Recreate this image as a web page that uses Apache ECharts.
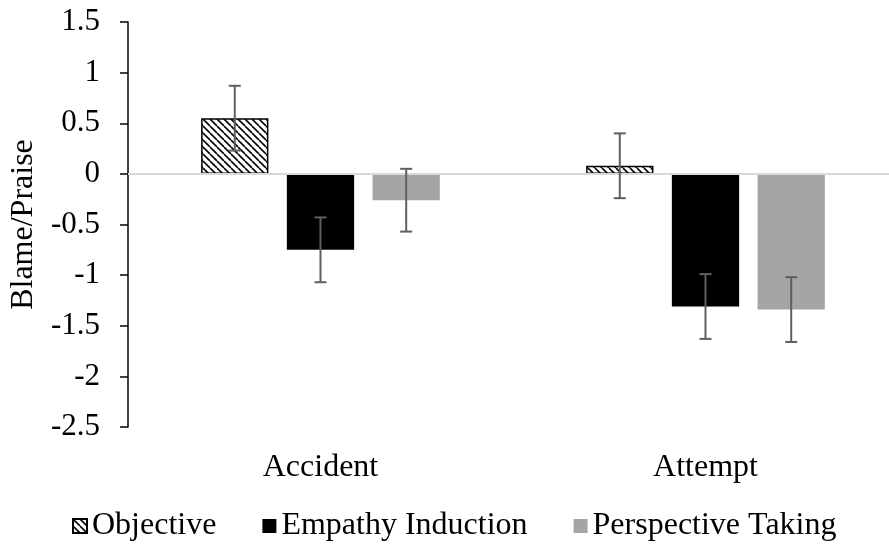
<!DOCTYPE html>
<html>
<head>
<meta charset="utf-8">
<script src="https://cdn.jsdelivr.net/npm/echarts@6/dist/echarts.min.js"></script>
<style>
html,body{margin:0;padding:0;background:#fff;overflow:hidden;width:889px;height:548px;}
#chart{width:898px;height:548px;}
</style>
</head>
<body>
<div id="chart"></div>
<script>
const categories = ['Accident', 'Attempt'];
const seriesNames = ['Objective', 'Empathy Induction', 'Perspective Taking'];
const objective = [0.55, 0.08];
const empathy = [-0.75, -1.31];
const perspective = [-0.26, -1.34];
const objectiveErr = [0.32, 0.32];
const empathyErr = [0.32, 0.32];
const perspectiveErr = [0.31, 0.32];
const yTicks = { min: -2.5, max: 1.5, interval: 0.5 };

const FONT = "'Liberation Serif', 'Times New Roman', serif";
const BAR_GAP = 0.274;
const CAT_GAP = 0.38;

function hatch() {
  const s = 7;
  const c = document.createElement('canvas');
  c.width = s; c.height = s;
  const ctx = c.getContext('2d');
  ctx.fillStyle = '#fff';
  ctx.fillRect(0, 0, s, s);
  ctx.strokeStyle = '#000';
  ctx.lineWidth = 1.6;
  for (const k of [-s, 0, s]) {
    ctx.beginPath();
    ctx.moveTo(k, 0);
    ctx.lineTo(k + s, s);
    ctx.stroke();
  }
  return c;
}

const values = [objective, empathy, perspective];
const errs = [objectiveErr, empathyErr, perspectiveErr];
const errData = [];
values.forEach((vals, s) => {
  vals.forEach((v, ci) => {
    errData.push([ci, v - errs[s][ci], v + errs[s][ci], s]);
  });
});

const styles = [
  { color: { image: hatch(), repeat: 'repeat' }, borderColor: '#000', borderWidth: 1.5 },
  { color: '#000000' },
  { color: '#a5a5a5' }
];

const barSeries = values.map((vals, s) => ({
  name: seriesNames[s],
  type: 'bar',
  data: vals,
  barGap: (BAR_GAP * 100) + '%',
  barCategoryGap: (CAT_GAP * 100) + '%',
  itemStyle: styles[s],
  z: 2,
  markLine: s === 0 ? {
    silent: true,
    symbol: ['none', 'none'],
    label: { show: false },
    lineStyle: { color: '#d9d9d9', width: 2, type: 'solid' },
    data: [{ yAxis: 0 }],
    animation: false
  } : undefined
}));

const errSeries = {
  type: 'custom',
  name: 'err',
  z: 5,
  silent: true,
  clip: false,
  data: errData,
  encode: { x: 0, y: [1, 2] },
  renderItem: function (params, api) {
    const ci = api.value(0);
    const lo = api.value(1);
    const hi = api.value(2);
    const s = api.value(3);
    const band = api.size([1, 0])[0];
    const bw = band * (1 - CAT_GAP) / (3 + 2 * BAR_GAP);
    const cx = api.coord([ci, 0])[0] + (s - 1) * bw * (1 + BAR_GAP);
    const yLo = api.coord([ci, lo])[1];
    const yHi = api.coord([ci, hi])[1];
    const cap = 6;
    const st = { stroke: '#5f5f5f', lineWidth: 2 };
    return {
      type: 'group',
      children: [
        { type: 'line', shape: { x1: cx, y1: yLo, x2: cx, y2: yHi }, style: st },
        { type: 'line', shape: { x1: cx - cap, y1: yLo, x2: cx + cap, y2: yLo }, style: st },
        { type: 'line', shape: { x1: cx - cap, y1: yHi, x2: cx + cap, y2: yHi }, style: st }
      ]
    };
  }
};

const chart = echarts.init(document.getElementById('chart'), null, { renderer: 'canvas' });
chart.setOption({
  animation: false,
  backgroundColor: '#fff',
  textStyle: { fontFamily: FONT },
  grid: { left: 127, top: 22, right: 0, bottom: 121, containLabel: false },
  legend: {
    data: seriesNames,
    left: 67,
    top: 503,
    itemWidth: 14,
    itemHeight: 14,
    itemGap: 46,
    icon: 'rect',
    textStyle: { fontFamily: FONT, fontSize: 32, color: '#000', lineHeight: 36 }
  },
  xAxis: {
    type: 'category',
    data: categories,
    axisLine: { show: false, onZero: false },
    axisTick: { show: false },
    axisLabel: { fontFamily: FONT, fontSize: 32, color: '#000', margin: 25 },
    splitLine: { show: false }
  },
  yAxis: {
    type: 'value',
    min: yTicks.min,
    max: yTicks.max,
    interval: yTicks.interval,
    name: 'Blame/Praise',
    nameLocation: 'middle',
    nameGap: 81,
    nameTextStyle: { fontFamily: FONT, fontSize: 32, color: '#000' },
    axisLine: { show: true, lineStyle: { color: '#000', width: 1.5 } },
    axisTick: { show: true, inside: false, length: 8, lineStyle: { color: '#000', width: 1.5 } },
    axisLabel: { fontFamily: FONT, fontSize: 31, color: '#000', margin: 28 },
    splitLine: { show: false }
  },
  series: [...barSeries, errSeries]
});
</script>
</body>
</html>
